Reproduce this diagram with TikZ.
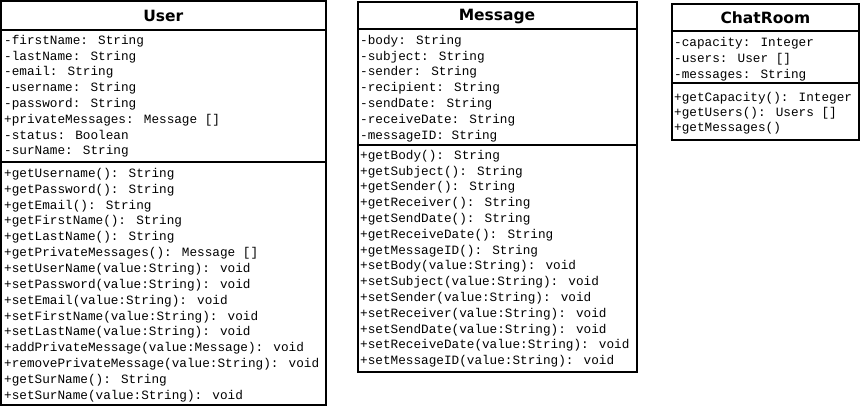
\documentclass[tikz,border=0pt]{standalone}
\usepackage{fontspec}
\newfontfamily\monofam{Liberation Mono}
\newfontfamily\titlefam{DejaVu Sans}
\begin{document}
\begin{tikzpicture}[x=1pt,y=-1pt,
  compartment/.style={draw=black, line width=2pt, fill=white, inner sep=0pt, outer sep=0pt, anchor=north west},
  classtitle/.style={font={\titlefam\bfseries\fontsize{15.5}{18}\selectfont}, anchor=base, inner sep=0pt},
  member/.style={font={\monofam\fontsize{12.7}{15.8}\selectfont}, anchor=base west, inner sep=0pt}]
\useasboundingbox (0,0) rectangle (862,407);

% ---------------- User ----------------
\node[compartment, minimum width=324.5pt, minimum height=28.5pt] (user-head) at (1,1) {};
\node[compartment, minimum width=324.5pt, minimum height=132pt] (user-attr) at (1,29.5) {};
\node[compartment, minimum width=324.5pt, minimum height=243pt] (user-ops) at (1,161.5) {};
\node[classtitle] (user-name) at (163.3,21.5) {User};
\foreach \t [count=\i] in {{-firstName: String},{-lastName: String},{-email: String},{-username: String},{-password: String},{+privateMessages: Message []},{-status: Boolean},{-surName: String}}
  \node[member] (ua\i) at (4,{44.3+15.8*(\i-1)}) {\t};
\foreach \t [count=\i] in {{+getUsername(): String},{+getPassword(): String},{+getEmail(): String},{+getFirstName(): String},{+getLastName(): String},{+getPrivateMessages(): Message []},{+setUserName(value:String): void},{+setPassword(value:String): void},{+setEmail(value:String): void},{+setFirstName(value:String): void},{+setLastName(value:String): void},{+addPrivateMessage(value:Message): void},{+removePrivateMessage(value:String): void},{+getSurName(): String},{+setSurName(value:String): void}}
  \node[member] (uo\i) at (4,{177.3+15.86*(\i-1)}) {\t};

% ---------------- Message ----------------
\node[compartment, minimum width=279pt, minimum height=27pt] (msg-head) at (357.5,1.5) {};
\node[compartment, minimum width=279pt, minimum height=116pt] (msg-attr) at (357.5,28.5) {};
\node[compartment, minimum width=279pt, minimum height=227.2pt] (msg-ops) at (357.5,144.5) {};
\node[classtitle] (msg-name) at (497,20.5) {Message};
\foreach \t [count=\i] in {{-body: String},{-subject: String},{-sender: String},{-recipient: String},{-sendDate: String},{-receiveDate: String},{-messageID: String}}
  \node[member] (ma\i) at (360,{44.3+15.8*(\i-1)}) {\t};
\foreach \t [count=\i] in {{+getBody(): String},{+getSubject(): String},{+getSender(): String},{+getReceiver(): String},{+getSendDate(): String},{+getReceiveDate(): String},{+getMessageID(): String},{+setBody(value:String): void},{+setSubject(value:String): void},{+setSender(value:String): void},{+setReceiver(value:String): void},{+setSendDate(value:String): void},{+setReceiveDate(value:String): void},{+setMessageID(value:String): void}}
  \node[member] (mo\i) at (360,{159.3+15.8*(\i-1)}) {\t};

% ---------------- ChatRoom ----------------
\node[compartment, minimum width=187.5pt, minimum height=26.4pt] (room-head) at (671.7,4.3) {};
\node[compartment, minimum width=187.5pt, minimum height=52.6pt] (room-attr) at (671.7,30.7) {};
\node[compartment, minimum width=187.5pt, minimum height=56.5pt] (room-ops) at (671.7,83.3) {};
\node[classtitle] (room-name) at (765.4,23.3) {ChatRoom};
\foreach \t [count=\i] in {{-capacity: Integer},{-users: User []},{-messages: String}}
  \node[member] (ra\i) at (674,{46.7+15.8*(\i-1)}) {\t};
\foreach \t [count=\i] in {{+getCapacity(): Integer},{+getUsers(): Users []},{+getMessages()}}
  \node[member] (ro\i) at (674,{101+15.4*(\i-1)}) {\t};
\end{tikzpicture}
\end{document}
